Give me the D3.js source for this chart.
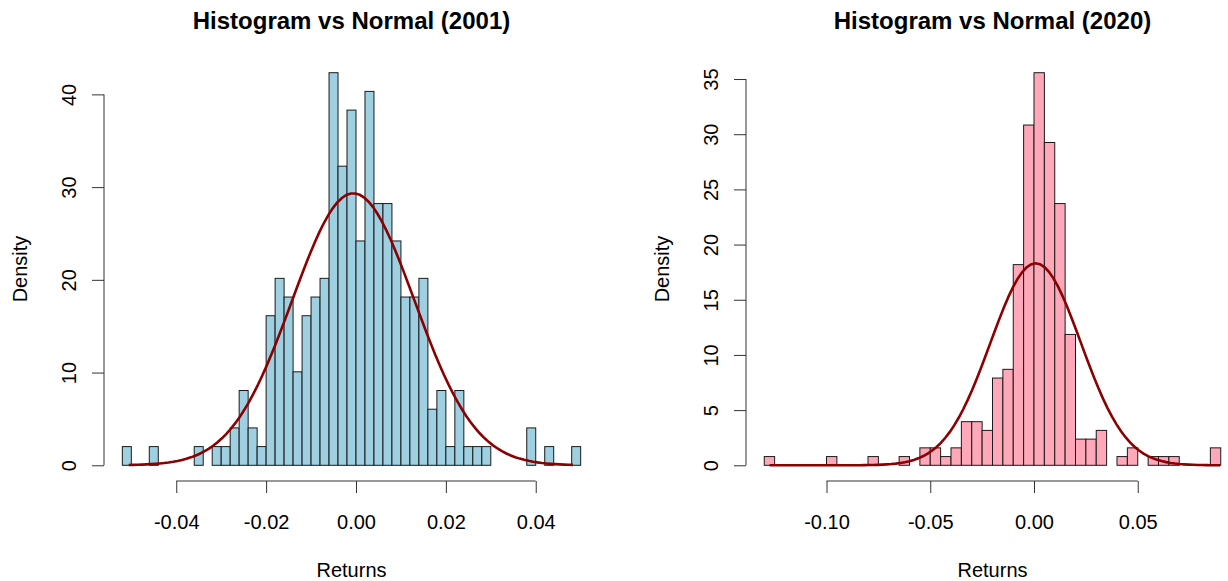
<!DOCTYPE html>
<html>
<head>
<meta charset="utf-8">
<script src="https://cdn.jsdelivr.net/npm/d3@7"></script>
<style>
    body { margin: 0; background: #fff; }
    text { font-family: 'Liberation Sans', Arial, Helvetica, sans-serif; fill: #000; }
</style>
</head>
<body>
<svg id="chart" width="1228" height="581"></svg>
<script>
'use strict';

// histogram data (counts per bin)
const titles = ['Histogram vs Normal (2001)', 'Histogram vs Normal (2020)'];
const binStart = [-0.052, -0.13];
const binWidth = [0.002, 0.005];

const counts2001 = [
    1, 0, 0, 1, 0, 0, 0, 0, 1, 0,
    1, 1, 2, 4, 2, 1, 8, 10, 9, 5,
    8, 9, 10, 21, 16, 19, 12, 20, 14, 14,
    12, 9, 9, 10, 3, 4, 1, 4, 1, 1,
    1, 0, 0, 0, 0, 2, 0, 1, 0, 0,
    1
];
const counts2020 = [
    1, 0, 0, 0, 0, 0, 1, 0, 0, 0,
    1, 0, 0, 1, 0, 2, 2, 1, 2, 5,
    5, 4, 10, 11, 23, 39, 45, 37, 30, 15,
    3, 3, 4, 0, 1, 2, 0, 1, 1, 1,
    0, 0, 0, 2
];

// fitted normal (mean, sd) and the range the curve is drawn over
const normalMean = [-0.0006, 0.0008];
const normalSd = [0.0136, 0.0218];
const curveRange = [[-0.0506, 0.0483], [-0.1274, 0.0897]];

const xTicks2001 = [-0.04, -0.02, 0, 0.02, 0.04];
const xTicks2020 = [-0.10, -0.05, 0, 0.05];
const yTicks2001 = [0, 10, 20, 30, 40];
const yTicks2020 = [0, 5, 10, 15, 20, 25, 30, 35];

const fills = ['#9fd0e1', '#ffa8b9'];

const panels = [
    { title: titles[0], start: binStart[0], width: binWidth[0], counts: counts2001,
      mean: normalMean[0], sd: normalSd[0], range: curveRange[0],
      xTicks: xTicks2001, yTicks: yTicks2001, fill: fills[0],
      left: 104, right: 599, top: 57, bottom: 481 },
    { title: titles[1], start: binStart[1], width: binWidth[1], counts: counts2020,
      mean: normalMean[1], sd: normalSd[1], range: curveRange[1],
      xTicks: xTicks2020, yTicks: yTicks2020, fill: fills[1],
      left: 746, right: 1239, top: 57, bottom: 481 }
];

const svg = d3.select('#chart');

const dnorm = (v, m, s) => Math.exp(-0.5 * ((v - m) / s) ** 2) / (s * Math.sqrt(2 * Math.PI));

panels.forEach(p => {
    const n = d3.sum(p.counts);
    const bins = p.counts.map((c, i) => ({
        x0: p.start + i * p.width,
        x1: p.start + (i + 1) * p.width,
        density: c / (n * p.width)
    }));

    // R style 4% padding on both scales
    const xlim = [bins[0].x0, bins[bins.length - 1].x1];
    const xpad = (xlim[1] - xlim[0]) * 0.04;
    const x = d3.scaleLinear()
        .domain([xlim[0] - xpad, xlim[1] + xpad])
        .range([p.left, p.right]);

    const ymax = d3.max(bins, d => d.density);
    const y = d3.scaleLinear()
        .domain([-ymax * 0.04, ymax * 1.04])
        .range([p.bottom, p.top]);

    const g = svg.append('g');

    // bars
    g.selectAll('rect')
        .data(bins)
        .enter().append('rect')
        .attr('x', d => x(d.x0))
        .attr('y', d => y(d.density))
        .attr('width', d => x(d.x1) - x(d.x0))
        .attr('height', d => y(0) - y(d.density))
        .attr('fill', p.fill)
        .attr('stroke', '#1a1a1a')
        .attr('stroke-width', 1);

    // normal curve
    const pts = d3.range(101).map(i => {
        const v = p.range[0] + (p.range[1] - p.range[0]) * i / 100;
        return [v, dnorm(v, p.mean, p.sd)];
    });
    g.append('path')
        .attr('d', d3.line().x(d => x(d[0])).y(d => y(d[1]))(pts))
        .attr('fill', 'none')
        .attr('stroke', '#8b0000')
        .attr('stroke-width', 2.6);

    // x axis
    const xAxis = g.append('g')
        .attr('transform', `translate(0, ${p.bottom})`)
        .call(d3.axisBottom(x)
            .tickValues(p.xTicks)
            .tickSize(12)
            .tickFormat(d => d.toFixed(2)));
    xAxis.select('.domain').remove();
    xAxis.append('line')
        .attr('x1', x(p.xTicks[0]))
        .attr('x2', x(p.xTicks[p.xTicks.length - 1]))
        .attr('stroke', '#333');
    xAxis.selectAll('.tick line').attr('stroke', '#333');
    xAxis.selectAll('.tick text')
        .attr('y', 48)
        .attr('dy', null)
        .attr('font-size', 20)
        .attr('font-family', null);

    // y axis
    const yAxis = g.append('g')
        .attr('transform', `translate(${p.left}, 0)`)
        .call(d3.axisLeft(y)
            .tickValues(p.yTicks)
            .tickSize(12));
    yAxis.select('.domain').remove();
    yAxis.append('line')
        .attr('y1', y(p.yTicks[0]))
        .attr('y2', y(p.yTicks[p.yTicks.length - 1]))
        .attr('stroke', '#333');
    yAxis.selectAll('.tick line').attr('stroke', '#333');
    yAxis.selectAll('.tick text')
        .attr('x', 0)
        .attr('dy', null)
        .attr('text-anchor', 'middle')
        .attr('transform', 'translate(-28, 0) rotate(-90)')
        .attr('font-size', 20)
        .attr('font-family', null);

    // titles
    g.append('text')
        .attr('x', (p.left + p.right) / 2)
        .attr('y', 29)
        .attr('text-anchor', 'middle')
        .attr('font-size', 24)
        .attr('font-weight', 'bold')
        .text(p.title);

    g.append('text')
        .attr('x', (p.left + p.right) / 2)
        .attr('y', 577)
        .attr('text-anchor', 'middle')
        .attr('font-size', 20)
        .text('Returns');

    g.append('text')
        .attr('transform', `translate(${p.left - 77}, ${(p.top + p.bottom) / 2}) rotate(-90)`)
        .attr('text-anchor', 'middle')
        .attr('font-size', 20)
        .text('Density');
});
</script>
</body>
</html>
